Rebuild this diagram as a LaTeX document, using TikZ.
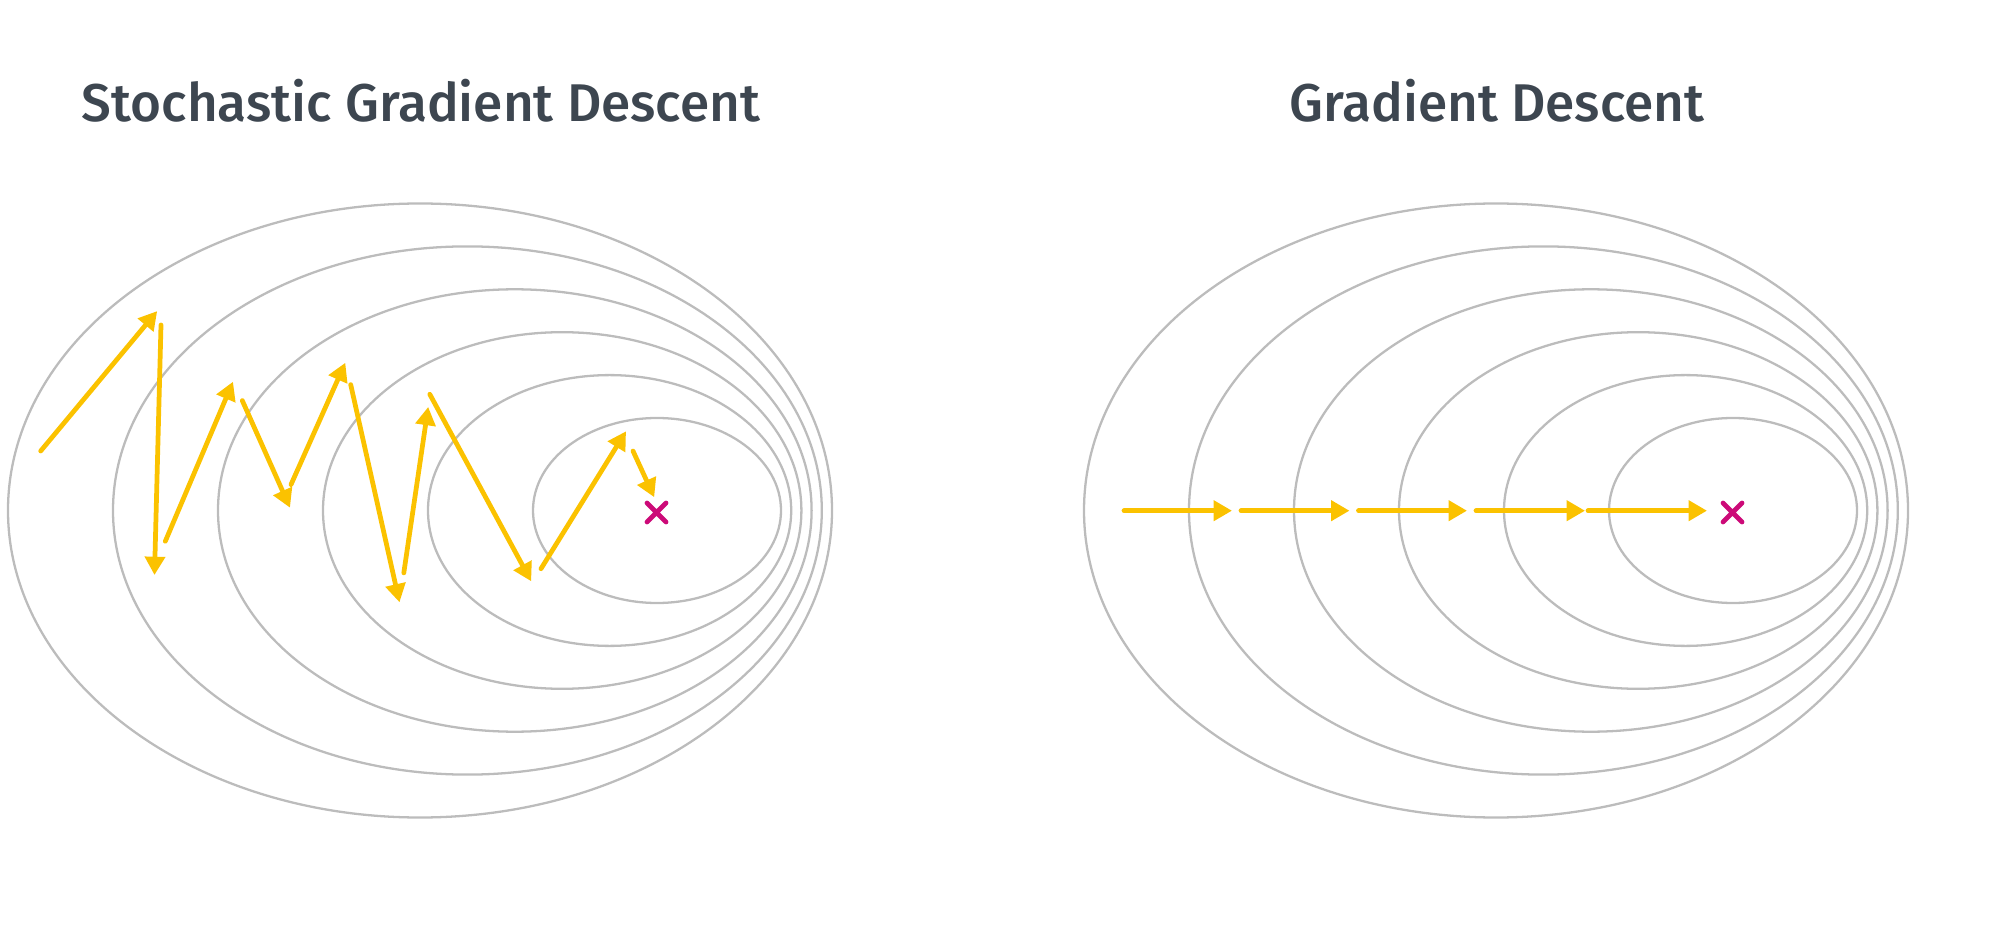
\documentclass[tikz,border=0pt]{standalone}
\usepackage{fontspec}
\usepackage{tikz}
\usetikzlibrary{arrows.meta}
\newfontfamily\titlefont{Fira Sans Medium}
\definecolor{titlegray}{HTML}{3D4650}
\definecolor{contourgray}{HTML}{BCBCBC}
\definecolor{stepyellow}{HTML}{FBC200}
\definecolor{optmagenta}{HTML}{CC0A78}

\begin{document}
\begin{tikzpicture}[x=0.01cm, y=-0.01cm,
  contour/.style={draw=contourgray, line width=0.65pt},
  move/.style={draw=stepyellow, line width=1.35pt, line cap=round, -{Triangle[length=5.2pt, width=5.6pt]}},
  optimum/.style={draw=optmagenta, line width=1.35pt, line cap=round},
  title/.style={font=\titlefont\fontsize{15.1}{18}\selectfont, text=titlegray, anchor=base, inner sep=0pt}]
\useasboundingbox (0,0) rectangle (2000,937);
\def\cy{510.5}
% contour lines of both panels
\foreach \dx/\ttl/\tname in {0/Stochastic Gradient Descent/sgd, 1076/Gradient Descent/gd} {
  \node[title] (\tname) at ({421+\dx},122) {\ttl};
  \foreach \i in {0,...,5} {
    \pgfmathsetmacro{\cx}{420+47.4*\i+\dx}
    \pgfmathsetmacro{\rx}{412-57.6*\i}
    \pgfmathsetmacro{\ry}{307-42.9*\i}
    \draw[contour] (\cx,\cy) ellipse [x radius=\rx, y radius=\ry];
  }
  \draw[optimum] ({647+\dx},503) -- ({666+\dx},522) ({647+\dx},522) -- ({666+\dx},503);
}
% stochastic steps
\foreach \xa/\ya/\xb/\yb in {40.7/451/157.2/311.1, 161/325/154.5/575, 165.3/541.3/233/381.7,
  242.3/400.6/290/507.7, 291/484.6/345.3/362.8, 350.7/384.6/399.5/602.3, 403.8/572.9/428.2/406.9,
  429.8/394.3/531.2/581.3, 541/568.7/626/431.3, 633/451/654.2/497.2}
  \draw[move] (\xa,\ya) -- (\xb,\yb);
% full-batch steps
\foreach \xa/\xb in {1124/1232, 1241/1349.5, 1358.5/1467, 1476/1585, 1588/1707}
  \draw[move] (\xa,510.7) -- (\xb,510.7);
\end{tikzpicture}
\end{document}
